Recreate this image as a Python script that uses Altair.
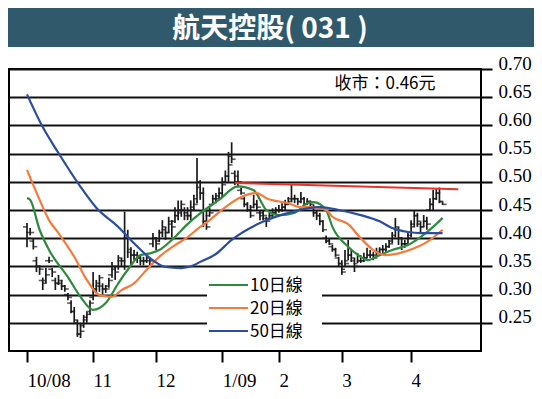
import altair as alt
import pandas as pd

# ---------------- data ----------------
title_text = "航天控股( 031 )"
close_note = "收市：0.46元"

month_labels = ["10/08", "11", "12", "1/09", "2", "3", "4"]
month_start_day = [0, 21, 41, 62, 80, 100, 122]
price_ticks = [0.25, 0.30, 0.35, 0.40, 0.45, 0.50, 0.55, 0.60, 0.65, 0.70]

bar_high = [.427, .418, .40, .367, .352, .33, .347, .367, .347, .33, .335, .326, .317, .303, .29, .278, .255, .25, .264, .269,
            .29, .34, .326, .335, .32, .317, .33, .358, .349, .37, .365, .447, .415, .384, .379, .376, .37, .367, .37, .365,
            .409, .402, .415, .432, .42, .438, .432, .455, .467, .467, .455, .455, .467, .477, .542, .503, .49, .45, .455, .477,
            .48, .49, .508, .52, .553, .57, .52, .52, .49, .473, .464, .459, .477, .468, .45, .45, .438, .445, .453, .455,
            .459, .462, .468, .473, .495, .477, .471, .482, .473, .471, .467, .459, .45, .445, .432, .405, .40, .388, .383, .367,
            .361, .379, .397, .379, .365, .374, .37, .374, .383, .379, .376, .383, .384, .388, .391, .397, .411, .436, .42, .402,
            .397, .411, .432, .45, .445, .429, .441, .438, .471, .486, .489, .49, .464]
bar_low = [.384, .405, .38, .34, .335, .308, .32, .356, .331, .308, .317, .308, .305, .29, .267, .251, .225, .223, .241, .25,
           .264, .29, .303, .305, .30, .303, .312, .33, .326, .344, .349, .344, .365, .352, .361, .356, .352, .352, .356, .352,
           .384, .379, .393, .402, .397, .409, .402, .427, .432, .438, .432, .432, .432, .45, .462, .468, .42, .415, .438, .46,
           .462, .468, .473, .498, .498, .533, .494, .49, .477, .455, .447, .436, .453, .45, .432, .432, .42, .432, .438, .441,
           .445, .447, .45, .459, .464, .462, .459, .462, .455, .459, .453, .438, .432, .423, .411, .391, .388, .376, .367, .349,
           .335, .349, .361, .358, .34, .356, .356, .358, .365, .365, .361, .367, .37, .374, .376, .383, .391, .402, .388, .379,
           .383, .391, .402, .42, .42, .411, .42, .415, .45, .45, .468, .462, .459]
bar_open = [.42, .41, .395, .36, .35, .325, .325, .36, .345, .325, .32, .32, .315, .30, .285, .27, .25, .23, .245, .255,
            .27, .295, .31, .315, .315, .31, .315, .335, .345, .35, .36, .36, .40, .375, .37, .37, .365, .36, .36, .36,
            .39, .40, .395, .41, .415, .41, .425, .43, .44, .445, .45, .445, .44, .455, .47, .49, .48, .43, .44, .46,
            .47, .475, .48, .50, .51, .545, .515, .51, .485, .47, .46, .45, .455, .46, .445, .445, .435, .435, .44, .445,
            .45, .45, .455, .46, .47, .47, .47, .465, .47, .46, .465, .455, .445, .44, .43, .40, .395, .385, .38, .365,
            .355, .345, .36, .37, .36, .355, .36, .36, .365, .37, .37, .37, .375, .38, .38, .385, .395, .405, .415, .40,
            .39, .39, .405, .425, .44, .425, .42, .43, .45, .46, .47, .48, .465]
bar_close = [.40, .41, .385, .35, .345, .32, .335, .36, .34, .32, .325, .315, .31, .295, .27, .255, .23, .235, .26, .265,
             .285, .31, .32, .33, .31, .31, .325, .35, .34, .365, .36, .40, .38, .37, .37, .365, .36, .36, .365, .36,
             .40, .39, .41, .42, .41, .43, .42, .44, .45, .46, .44, .44, .45, .46, .50, .48, .43, .42, .445, .47,
             .47, .48, .495, .51, .53, .54, .50, .50, .48, .46, .45, .44, .46, .455, .44, .44, .43, .44, .445, .45,
             .45, .455, .46, .465, .47, .47, .465, .47, .46, .465, .46, .445, .44, .43, .415, .395, .39, .38, .37, .355,
             .34, .355, .37, .365, .35, .36, .36, .365, .37, .37, .365, .375, .38, .38, .385, .39, .40, .42, .40, .39,
             .39, .40, .42, .44, .43, .42, .43, .425, .46, .47, .48, .465, .46]

ma10_day = [0, 1, 4, 7, 13, 17, 21, 25, 29, 32, 36, 39, 42, 46, 51, 55, 61, 67, 72, 76, 80, 85, 89, 91, 95, 97, 102, 106, 108, 112, 116, 121, 125, 129, 132]
ma10_val = [.471, .468, .415, .379, .331, .296, .273, .285, .32, .344, .37, .373, .379, .397, .425, .444, .468, .492, .485, .45,
            .441, .445, .462, .464, .45, .42, .385, .367, .361, .37, .379, .388, .402, .42, .436]
ma20_day = [0, 4, 7, 10, 15, 19, 23, 27, 30, 34, 38, 42, 46, 51, 55, 58, 63, 68, 73, 76, 83, 87, 91, 95, 97, 102, 106, 110, 114, 118, 123, 127, 132]
ma20_val = [.521, .468, .432, .409, .367, .326, .299, .296, .308, .32, .344, .367, .384, .402, .42, .432, .455, .473, .48, .471,
            .462, .455, .455, .45, .438, .425, .40, .379, .37, .373, .382, .393, .415]
ma50_day = [0, 5, 10, 17, 22, 29, 34, 39, 44, 49, 53, 55, 60, 65, 74, 83, 89, 93, 99, 106, 112, 116, 121, 125, 132]
ma50_val = [.655, .597, .551, .491, .454, .42, .391, .365, .349, .347, .352, .358, .372, .397, .427, .445, .453, .455, .45, .441,
            .43, .418, .411, .409, .409]

resist_day = [66, 137]
resist_val = [0.498, 0.487]

series_names = ["10日線", "20日線", "50日線"]
series_colors = ["#2e8b3e", "#f47b3a", "#2a4d9e"]
resist_color = "#e8332a"
band_color = "#305a6c"

# ---------------- tables ----------------
bars = pd.DataFrame({"day": list(range(len(bar_close))), "open": bar_open, "high": bar_high,
                     "low": bar_low, "close": bar_close})
ma = pd.concat([
    pd.DataFrame({"day": ma10_day, "value": ma10_val, "series": series_names[0]}),
    pd.DataFrame({"day": ma20_day, "value": ma20_val, "series": series_names[1]}),
    pd.DataFrame({"day": ma50_day, "value": ma50_val, "series": series_names[2]}),
])
resist = pd.DataFrame({"day": resist_day, "value": resist_val})
one = pd.DataFrame({"k": [0]})

W, H = 472, 282
xscale = alt.Scale(domain=[-5.72, 144.2], nice=False, zero=False)
yscale = alt.Scale(domain=[0.20, 0.70], nice=False, zero=False)

label_expr = ""
for d, lab in zip(month_start_day, month_labels):
    label_expr += f"datum.value == {d} ? '{lab}' : "
label_expr += "''"

x_axis = alt.Axis(values=month_start_day, labelExpr=label_expr, grid=False, domain=False,
                  tickSize=11, tickWidth=2, tickColor="black", labelAlign="left",
                  labelBaseline="alphabetic", labelPadding=24, labelFont="Liberation Serif",
                  labelFontSize=19, labelColor="black", title=None, labelFlush=False,
                  labelOverlap=False)
y_axis = alt.Axis(orient="right", values=price_ticks, format=".2f", grid=True, gridColor="#111",
                  gridWidth=2, gridOpacity=1, domain=False, tickSize=11, tickWidth=2,
                  tickColor="black", labelPadding=6, labelBaseline="alphabetic",
                  labelFont="Liberation Serif", labelFontSize=19, labelColor="black",
                  title=None, labelFlush=False, labelOverlap=False)

X = alt.X("day:Q", scale=xscale, axis=x_axis)

bar_color = "#1a1a1a"
hl = alt.Chart(bars).mark_rule(color=bar_color, strokeWidth=1.7).encode(
    x=X, y=alt.Y("low:Q", scale=yscale, axis=y_axis), y2="high:Q",
)
op = alt.Chart(bars).mark_tick(orient="horizontal", size=4, thickness=1.6, xOffset=-2, color=bar_color).encode(
    x=X, y=alt.Y("open:Q", scale=yscale, axis=y_axis),
)
cl = alt.Chart(bars).mark_tick(orient="horizontal", size=4, thickness=1.6, xOffset=2, color=bar_color).encode(
    x=X, y=alt.Y("close:Q", scale=yscale, axis=y_axis),
)
lines = alt.Chart(ma).mark_line(strokeWidth=2.2, interpolate="monotone").encode(
    x=X, y=alt.Y("value:Q", scale=yscale, axis=y_axis),
    color=alt.Color("series:N", scale=alt.Scale(domain=series_names, range=series_colors), legend=None),
)
red = alt.Chart(resist).mark_line(strokeWidth=2, color=resist_color).encode(
    x=X, y=alt.Y("value:Q", scale=yscale, axis=y_axis),
)

# legend box
leg_bg = alt.Chart(one).mark_rect(fill="white").encode(
    x=alt.value(198), x2=alt.value(313), y=alt.value(205), y2=alt.value(274))
leg_layers = []
for k, (name, col) in enumerate(zip(series_names, series_colors)):
    yy = 216 + 23 * k
    leg_layers.append(alt.Chart(one).mark_rule(color=col, strokeWidth=2).encode(
        x=alt.value(200), x2=alt.value(239), y=alt.value(yy)))
    leg_layers.append(alt.Chart(one).mark_text(align="left", baseline="middle", fontSize=17,
                                               font="Noto Sans CJK TC", color="black").encode(
        x=alt.value(241), y=alt.value(yy + 1), text=alt.value(name)))

note = alt.Chart(one).mark_text(align="center", baseline="middle", fontSize=17,
                                font="Noto Sans CJK TC", color="black").encode(
    x=alt.value(376), y=alt.value(15), text=alt.value(close_note))

band = alt.Chart(one).mark_rect(fill=band_color).encode(
    x=alt.value(-1), x2=alt.value(525), y=alt.value(-61), y2=alt.value(-22))
title = alt.Chart(one).mark_text(align="center", baseline="middle", fontSize=28, fontWeight="bold",
                                 font="Noto Sans CJK TC", color="white").encode(
    x=alt.value(261), y=alt.value(-39), text=alt.value(title_text))

chart = alt.layer(hl, op, cl, lines, red, leg_bg, *leg_layers, note, band, title).properties(
    width=W, height=H,
    autosize=alt.AutoSizeParams(type="none"),
    padding={"left": 1, "top": 61, "right": 53, "bottom": 40},
    background="white",
).configure_view(stroke="black", strokeWidth=2)

chart.save("out.html", embed_options={"renderer": "svg", "actions": False})
